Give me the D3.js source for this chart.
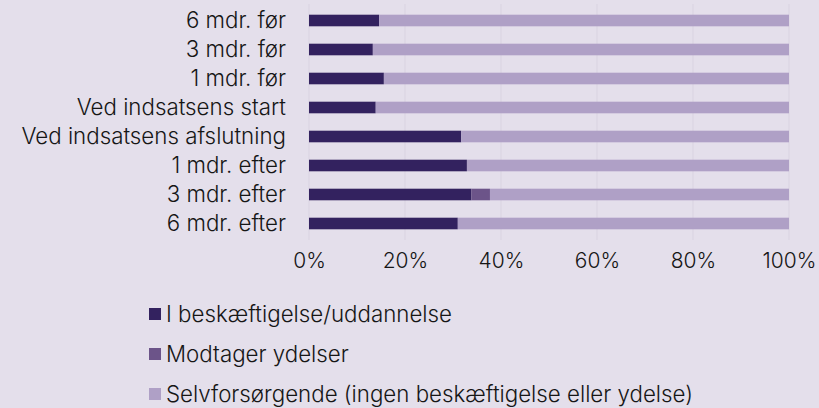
<!DOCTYPE html>
<html>
<head>
<meta charset="utf-8">
<script src="https://cdn.jsdelivr.net/npm/d3@7"></script>
<style>
  body { margin: 0; background: #e4dfeb; }
  svg text { font-family: Inter, sans-serif; font-weight: 300; fill: #161616; }
</style>
</head>
<body>
<script>
const svgWidth = 819
const svgHeight = 408

const categories = ["6 mdr. før", "3 mdr. før", "1 mdr. før", "Ved indsatsens start",
  "Ved indsatsens afslutning", "1 mdr. efter", "3 mdr. efter", "6 mdr. efter"]
const employed = [14.6, 13.3, 15.6, 13.9, 31.7, 32.9, 33.8, 31.0]
const benefits = [0, 0, 0, 0, 0, 0, 3.9, 0]
const selfSupported = employed.map((d, i) => 100 - d - benefits[i])
const seriesNames = ["I beskæftigelse/uddannelse", "Modtager ydelser",
  "Selvforsørgende (ingen beskæftigelse eller ydelse)"]
const colors = ["#33225f", "#6c5489", "#afa0c6"]
const xTicks = [0, 20, 40, 60, 80, 100]

const fontSize = "22.3px"
const margin = { top: 6, left: 309 }

const svg = d3.select("body").append("svg")
  .attr("width", svgWidth)
  .attr("height", svgHeight)

const x = d3.scaleLinear().domain([0, 100]).range([margin.left, 789])
const y = d3.scaleBand().domain(categories).range([margin.top, 238]).paddingInner(0.6).paddingOuter(0.3)

const rows = categories.map((c, i) => ({ cat: c, v: [employed[i], benefits[i], selfSupported[i]] }))
const stacked = d3.stack().keys([0, 1, 2]).value((d, k) => d.v[k])(rows)

// faint gridlines
svg.append("g").selectAll("line")
  .data(xTicks)
  .join("line")
  .attr("x1", d => x(d)).attr("x2", d => x(d))
  .attr("y1", 4).attr("y2", 240)
  .attr("stroke", "#d9d3e1")
  .attr("stroke-width", 1)

svg.append("g").selectAll("g")
  .data(stacked)
  .join("g")
  .attr("fill", (d, i) => colors[i])
  .selectAll("rect")
  .data(d => d)
  .join("rect")
  .attr("x", d => x(d[0]))
  .attr("width", d => x(d[1]) - x(d[0]))
  .attr("y", d => y(d.data.cat))
  .attr("height", y.bandwidth())

// category labels
const yAxis = svg.append("g")
  .attr("transform", `translate(${margin.left - 23}, 0)`)
  .call(d3.axisLeft(y).tickSize(0).tickPadding(0))
yAxis.select(".domain").remove()
yAxis.selectAll("text").attr("font-size", fontSize).attr("font-family", "Inter, sans-serif").attr("fill", "#161616")

// x tick labels
const xAxis = svg.append("g")
  .attr("transform", "translate(0, 253)")
  .call(d3.axisBottom(x).tickValues(xTicks).tickFormat(d => d + "%").tickSize(0).tickPadding(0))
xAxis.select(".domain").remove()
xAxis.selectAll("text").attr("font-size", "21px").attr("font-family", "Inter, sans-serif").attr("fill", "#161616")

// legend
const legend = svg.append("g").selectAll("g")
  .data(seriesNames)
  .join("g")
  .attr("transform", (d, i) => `translate(149, ${314 + i * 40})`)
legend.append("rect")
  .attr("x", 0).attr("y", -6)
  .attr("width", 12).attr("height", 12)
  .attr("fill", (d, i) => colors[i])
legend.append("text")
  .attr("x", 17).attr("dy", "0.36em")
  .attr("font-size", fontSize)
  .text(d => d)
</script>
</body>
</html>
